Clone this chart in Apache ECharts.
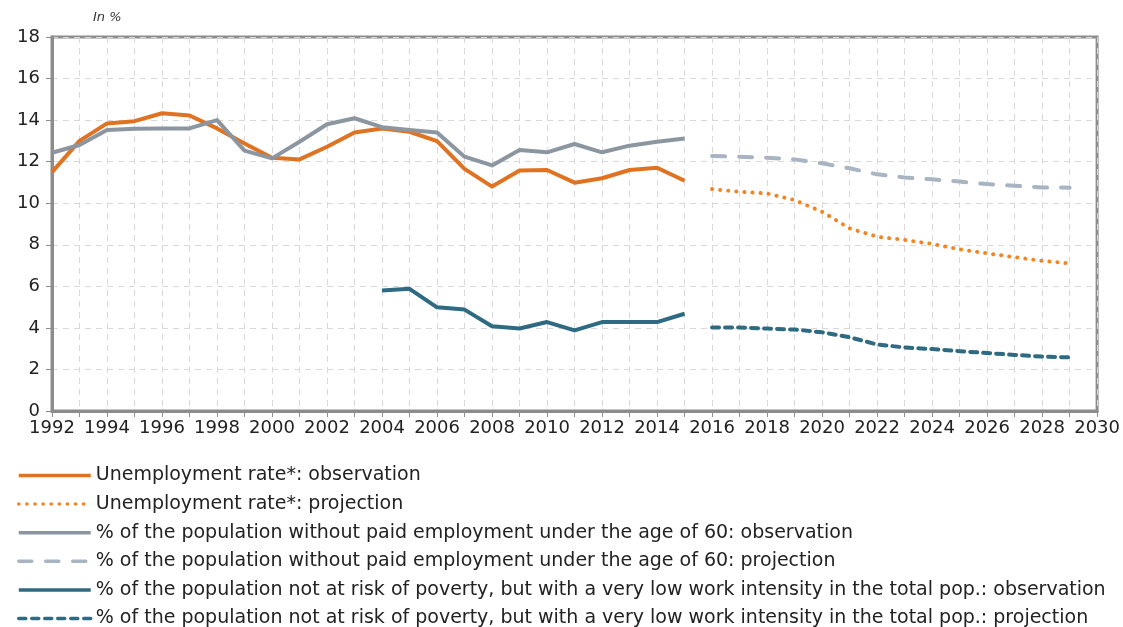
<!DOCTYPE html>
<html>
<head>
<meta charset="utf-8">
<script src="https://cdn.jsdelivr.net/npm/echarts@6/dist/echarts.min.js"></script>
<style>
html,body{margin:0;padding:0;background:#fff;}
#chart{width:1123px;height:627px;}
</style>
</head>
<body>
<div id="chart"></div>
<script>
const obsYears = [1992,1993,1994,1995,1996,1997,1998,1999,2000,2001,2002,2003,2004,2005,2006,2007,2008,2009,2010,2011,2012,2013,2014,2015];
const projYears = [2016,2017,2018,2019,2020,2021,2022,2023,2024,2025,2026,2027,2028,2029];
const povYears = [2004,2005,2006,2007,2008,2009,2010,2011,2012,2013,2014,2015];

const unempObs = [11.5,13.0,13.84,13.95,14.33,14.22,13.6,12.88,12.19,12.11,12.72,13.4,13.6,13.44,12.99,11.65,10.8,11.57,11.6,10.99,11.2,11.6,11.71,11.08];
const unempProj = [10.68,10.55,10.47,10.15,9.59,8.79,8.39,8.23,8.04,7.78,7.59,7.4,7.23,7.1];
const noJobObs = [12.43,12.8,13.52,13.59,13.6,13.6,14.0,12.53,12.16,12.96,13.8,14.09,13.66,13.52,13.4,12.24,11.82,12.56,12.45,12.85,12.45,12.77,12.96,13.12];
const noJobProj = [12.27,12.24,12.19,12.11,11.92,11.68,11.39,11.24,11.15,11.04,10.92,10.84,10.76,10.75];
const lowWorkObs = [5.8,5.88,4.99,4.88,4.08,3.97,4.28,3.88,4.28,4.28,4.28,4.68];
const lowWorkProj = [4.02,4.02,3.97,3.92,3.79,3.55,3.2,3.06,2.98,2.88,2.79,2.7,2.62,2.58];

const names = [
  'Unemployment rate*: observation',
  'Unemployment rate*: projection',
  '% of the population without paid employment under the age of 60: observation',
  '% of the population without paid employment under the age of 60: projection',
  '% of the population not at risk of poverty, but with a very low work intensity in the total pop.: observation',
  '% of the population not at risk of poverty, but with a very low work intensity in the total pop.: projection'
];

const zip = (xs, ys) => xs.map((x, i) => [x, ys[i]]);
const FONT = '"DejaVu Sans", Verdana, sans-serif';

const chart = echarts.init(document.getElementById('chart'));
function mk(name, xs, ys, color, type, width, cap) {
  return {
    name: name, type: 'line', data: zip(xs, ys), symbol: 'none', showSymbol: false,
    lineStyle: { color: color, width: width, type: type, cap: cap || 'butt', join: 'round' },
    itemStyle: { color: color },
    emphasis: { disabled: true }, silent: true, animation: false
  };
}
chart.setOption({
  animation: false,
  backgroundColor: '#ffffff',
  title: {
    text: 'In %', left: 88, top: 6,
    textStyle: { fontFamily: FONT, fontSize: 13, fontStyle: 'italic', fontWeight: 'normal', color: '#333' }
  },
  grid: {
    left: 52, right: 23, top: 37, bottom: 216,
    show: true, borderColor: '#8c8c8c', borderWidth: 3, backgroundColor: 'transparent'
  },
  xAxis: {
    type: 'value', min: 1992, max: 2030, interval: 1,
    axisLine: { show: true, lineStyle: { color: '#8c8c8c', width: 3 } },
    axisTick: { show: true, length: 6, lineStyle: { color: '#8c8c8c', width: 1 } },
    axisLabel: {
      margin: 8, color: '#222', fontFamily: FONT, fontSize: 18, showMinLabel: true, showMaxLabel: true,
      formatter: v => (v % 2 === 0 ? String(v) : '')
    },
    splitLine: { show: true, lineStyle: { color: '#d9d9d9', type: [6, 5], width: 1 } }
  },
  yAxis: {
    type: 'value', min: 0, max: 18, interval: 2,
    axisLine: { show: true, lineStyle: { color: '#8c8c8c', width: 3 } },
    axisTick: { show: true, length: 6, lineStyle: { color: '#8c8c8c', width: 1 } },
    axisLabel: { margin: 12, color: '#222', fontFamily: FONT, fontSize: 18 },
    splitLine: { show: true, lineStyle: { color: '#d9d9d9', type: [6, 5], width: 1 } }
  },
  legend: {
    orient: 'vertical', left: 17, top: 466, height: 200, padding: 0, itemWidth: 72, itemHeight: 14, itemGap: 9.6,
    selectedMode: false,
    itemStyle: { opacity: 0 },
    lineStyle: { width: 3.5 },
    textStyle: { fontFamily: FONT, fontSize: 19, color: '#222', lineHeight: 18 },
    data: names
  },
  series: [
    mk(names[0], obsYears, unempObs, '#e07322', 'solid', 4),
    mk(names[1], projYears, unempProj, '#f5831f', [0.1, 8], 4, 'round'),
    mk(names[2], obsYears, noJobObs, '#8c96a1', 'solid', 4),
    mk(names[3], projYears, noJobProj, '#a8b4c2', [13, 14], 4, 'round'),
    mk(names[4], povYears, lowWorkObs, '#2e6b82', 'solid', 4),
    mk(names[5], projYears, lowWorkProj, '#2e6b82', [7, 6], 4, 'round')
  ]
});
</script>
</body>
</html>
